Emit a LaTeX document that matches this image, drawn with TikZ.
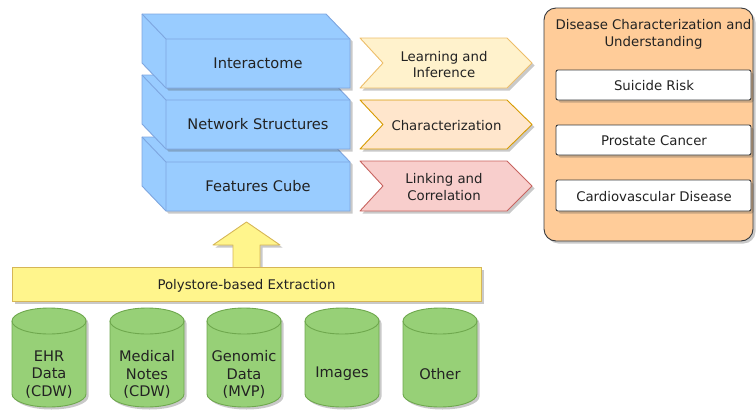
\documentclass[tikz,border=0pt]{standalone}
\usepackage{fontspec}
\setmainfont{DejaVu Sans}
\usetikzlibrary{shadows}

\definecolor{cubeFill}{HTML}{99CCFF}
\definecolor{cubeLine}{HTML}{7EA6E0}
\definecolor{learnFill}{HTML}{FFF2CC}
\definecolor{learnLine}{HTML}{EDBE6A}
\definecolor{charFill}{HTML}{FFE6CC}
\definecolor{charLine}{HTML}{D79B00}
\definecolor{linkFill}{HTML}{F8CECC}
\definecolor{linkLine}{HTML}{C86460}
\definecolor{barFill}{HTML}{FFF58C}
\definecolor{barLine}{HTML}{D6B656}
\definecolor{diseaseFill}{HTML}{FFCC99}
\definecolor{diseaseLine}{HTML}{36393D}
\definecolor{drumFill}{HTML}{97D077}
\definecolor{drumLine}{HTML}{6FA84E}
\definecolor{txt}{HTML}{222222}

\begin{document}
\begin{tikzpicture}[x=1pt,y=-1pt,
    shade/.style={drop shadow={shadow xshift=2.5pt,shadow yshift=-2.5pt,opacity=0.3,fill=black!70}},
    cube/.style={fill=cubeFill,draw=cubeLine,line width=0.9pt,line join=round,shade},
    chev/.style={line width=0.9pt,line join=round,shade},
    bigtxt/.style={text=txt,font=\fontsize{14.6}{17.5}\selectfont,align=center},
    smalltxt/.style={text=txt,font=\fontsize{13.3}{16.8}\selectfont,align=center},
    whitebox/.style={fill=white,draw=diseaseLine,line width=0.9pt,rounded corners=2pt,shade},
    drum/.style={fill=drumFill,draw=drumLine,line width=0.9pt,shade}]

    \useasboundingbox (0,0) rectangle (756,410);

    % Depth of the stacked boxes
    \def\dx{24}
    \def\dy{25}

    %%%% Stacked boxes (bottom one first)
    % Features Cube
    \filldraw[cube] (166-\dx,162-\dy) -- (350-\dx,162-\dy) -- (350,162) -- (350,211)
        -- (166,211) -- (166-\dx,211-\dy) -- cycle;
    \draw[cubeLine,line width=0.9pt] (166-\dx,162-\dy) -- (166,162) -- (350,162)
        (166,162) -- (166,211);
    \node[bigtxt] (features) at (258,186.5) {Features Cube};

    % Network Structures
    \filldraw[cube] (166-\dx,100-\dy) -- (350-\dx,100-\dy) -- (350,100) -- (350,149)
        -- (166,149) -- (166-\dx,149-\dy) -- cycle;
    \draw[cubeLine,line width=0.9pt] (166-\dx,100-\dy) -- (166,100) -- (350,100)
        (166,100) -- (166,149);
    \node[bigtxt] (network) at (258,124.5) {Network Structures};

    % Interactome
    \filldraw[cube] (166-\dx,39-\dy) -- (350-\dx,39-\dy) -- (350,39) -- (350,88)
        -- (166,88) -- (166-\dx,88-\dy) -- cycle;
    \draw[cubeLine,line width=0.9pt] (166-\dx,39-\dy) -- (166,39) -- (350,39)
        (166,39) -- (166,88);
    \node[bigtxt] (interactome) at (258,63.5) {Interactome};

    %%%% Chevrons
    \filldraw[chev,fill=learnFill,draw=learnLine] (360,38) -- (507,38) -- (532,63)
        -- (507,88) -- (360,88) -- (383,63) -- cycle;
    \node[smalltxt] (learning) at (444,64.5) {Learning and\\Inference};

    \filldraw[chev,fill=charFill,draw=charLine] (360,100) -- (507,100) -- (532,124.5)
        -- (507,149) -- (360,149) -- (383,124.5) -- cycle;
    \node[smalltxt] (characterization) at (446.5,126) {Characterization};

    \filldraw[chev,fill=linkFill,draw=linkLine] (360,161) -- (507,161) -- (532,186)
        -- (507,211) -- (360,211) -- (383,186) -- cycle;
    \node[smalltxt] (linking) at (444,187) {Linking and\\Correlation};

    %%%% Disease box
    \filldraw[fill=diseaseFill,draw=diseaseLine,line width=0.9pt,rounded corners=12pt,shade]
        (544,8) rectangle (753,241);
    \node[smalltxt] (disease) at (653.5,34.5) {Disease Characterization and\\Understanding};

    \filldraw[whitebox] (556,70) rectangle (751,100);
    \node[smalltxt] (suicide) at (654,86) {Suicide Risk};
    \filldraw[whitebox] (556,125) rectangle (751,155);
    \node[smalltxt] (prostate) at (654,141) {Prostate Cancer};
    \filldraw[whitebox] (556,180) rectangle (751,211);
    \node[smalltxt] (cardio) at (654,196.5) {Cardiovascular Disease};

    %%%% Extraction bar and arrow
    \filldraw[fill=barFill,draw=barLine,line width=0.9pt,line join=round,shade]
        (233,268) -- (233,245) -- (213,245) -- (246.5,222) -- (280,245) -- (260,245)
        -- (260,268) -- cycle;
    \filldraw[fill=barFill,draw=barLine,line width=0.9pt,shade] (12,267) rectangle (481,301);
    \node[smalltxt] (polystore) at (246.5,285.5) {Polystore-based Extraction};

    %%%% Data sources
    % EHR
    \filldraw[drum] (12,321) -- (12,394) arc[start angle=180,end angle=0,x radius=37,y radius=13]
        -- (86,321) arc[start angle=0,end angle=-180,x radius=37,y radius=13] -- cycle;
    \draw[drumLine,line width=0.9pt] (12,321) arc[start angle=180,end angle=0,x radius=37,y radius=13];
    \node[bigtxt] (ehr) at (49,374.5) {EHR\\Data\\(CDW)};

    % Medical notes
    \filldraw[drum] (110,321) -- (110,394) arc[start angle=180,end angle=0,x radius=37,y radius=13]
        -- (184,321) arc[start angle=0,end angle=-180,x radius=37,y radius=13] -- cycle;
    \draw[drumLine,line width=0.9pt] (110,321) arc[start angle=180,end angle=0,x radius=37,y radius=13];
    \node[bigtxt] (notes) at (147,374.5) {Medical\\Notes\\(CDW)};

    % Genomic
    \filldraw[drum] (207,321) -- (207,394) arc[start angle=180,end angle=0,x radius=37,y radius=13]
        -- (281,321) arc[start angle=0,end angle=-180,x radius=37,y radius=13] -- cycle;
    \draw[drumLine,line width=0.9pt] (207,321) arc[start angle=180,end angle=0,x radius=37,y radius=13];
    \node[bigtxt] (genomic) at (244,374.5) {Genomic\\Data\\(MVP)};

    % Images
    \filldraw[drum] (305,321) -- (305,394) arc[start angle=180,end angle=0,x radius=37,y radius=13]
        -- (379,321) arc[start angle=0,end angle=-180,x radius=37,y radius=13] -- cycle;
    \draw[drumLine,line width=0.9pt] (305,321) arc[start angle=180,end angle=0,x radius=37,y radius=13];
    \node[bigtxt] (images) at (342,374) {Images};

    % Other
    \filldraw[drum] (403,321) -- (403,394) arc[start angle=180,end angle=0,x radius=37,y radius=13]
        -- (477,321) arc[start angle=0,end angle=-180,x radius=37,y radius=13] -- cycle;
    \draw[drumLine,line width=0.9pt] (403,321) arc[start angle=180,end angle=0,x radius=37,y radius=13];
    \node[bigtxt] (other) at (440,374) {Other};

\end{tikzpicture}
\end{document}
